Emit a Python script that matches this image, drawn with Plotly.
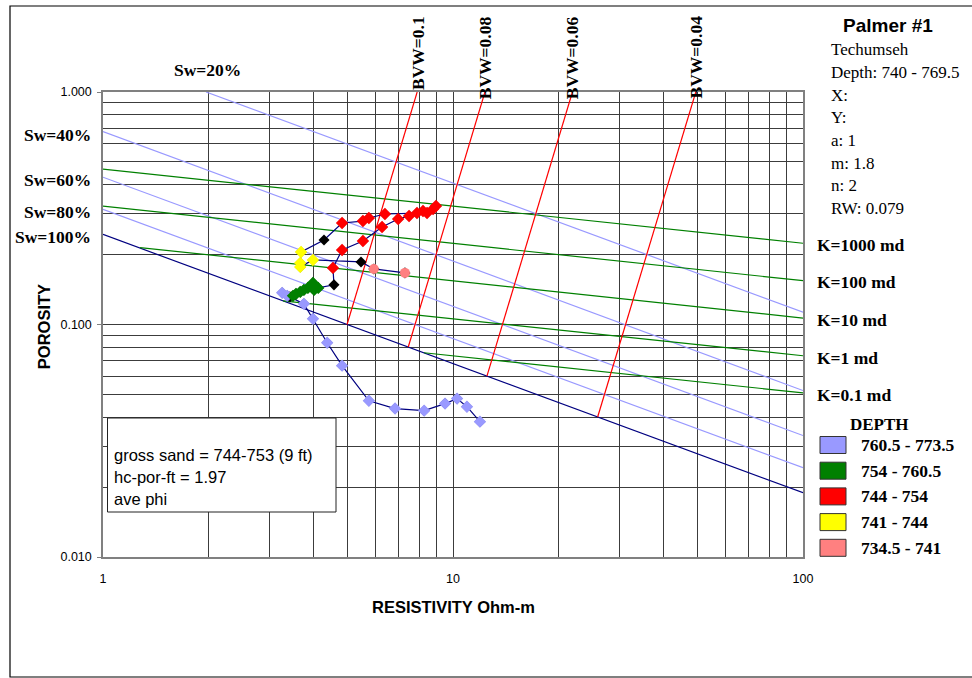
import plotly.graph_objects as go

# ---------------- data ----------------
SW_LABELS = ["Sw=20%", "Sw=40%", "Sw=60%", "Sw=80%", "Sw=100%"]
SW_RT = [[1.97, 100.0], [1.0, 100.0], [1.0, 100.0], [1.0, 100.0], [1.0, 100.0]]
SW_PHI = [[1.0, 0.113], [0.676, 0.0520], [0.430, 0.0333], [0.313, 0.0242], [0.244, 0.0189]]

BVW_LABELS = ["BVW=0.1", "BVW=0.08", "BVW=0.06", "BVW=0.04"]
BVW_RT = [[4.98, 7.90], [7.45, 12.34], [12.5, 21.94], [25.9, 49.4]]
BVW_PHI = [[0.10, 1.0], [0.08, 1.0], [0.06, 1.0], [0.04, 1.0]]

K_LABELS = ["K=1000 md", "K=100 md", "K=10 md", "K=1 md", "K=0.1 md"]
K_RT = [[1.0, 100.0], [1.0, 100.0], [1.276, 100.0], [3.27, 100.0], [8.26, 100.0]]
K_PHI = [[0.466, 0.2236], [0.323, 0.1544], [0.2143, 0.1066], [0.1264, 0.0734], [0.0756, 0.0508]]

# log points in depth order (resistivity, porosity, depth group)
POINT_RT = [7.29, 5.94,
            5.46,
            3.98, 3.66, 3.66, 3.68,
            4.28,
            4.82, 5.53, 5.75, 6.39, 7.89, 8.21, 8.94, 8.77, 8.43, 7.49, 6.97, 6.27, 5.53, 4.82, 4.54,
            4.57,
            4.12, 4.06, 3.98, 4.01, 3.93, 3.85, 3.75, 3.66, 3.56, 3.49,
            3.25, 3.36,
            3.42,
            3.75, 3.98, 4.37, 4.82, 5.75, 6.83, 8.27, 9.49, 10.27, 10.96, 11.94]
POINT_PHI = [0.1667, 0.1734,
             0.1858,
             0.1895, 0.1769, 0.1839, 0.2051,
             0.2310,
             0.2732, 0.2786, 0.2871, 0.2987, 0.3016, 0.3076, 0.3232, 0.3137, 0.3016, 0.2928, 0.2842, 0.2626, 0.2287, 0.2092, 0.1752,
             0.1481,
             0.1437, 0.1451, 0.1510, 0.1409, 0.1466, 0.1437, 0.1409, 0.1381, 0.1354, 0.1328,
             0.1368, 0.1328,
             0.1315,
             0.1227, 0.1058, 0.0835, 0.0665, 0.0470, 0.0435, 0.0426, 0.0457, 0.0480, 0.0443, 0.0382]
POINT_GROUP = (["734.5 - 741"] * 2 + ["other"] + ["741 - 744"] * 4 + ["other"]
               + ["744 - 754"] * 15 + ["other"] + ["754 - 760.5"] * 10
               + ["760.5 - 773.5"] * 2 + ["other"] + ["760.5 - 773.5"] * 11)

LEGEND_GROUPS = ["760.5 - 773.5", "754 - 760.5", "744 - 754", "741 - 744", "734.5 - 741"]
GROUP_COLORS = {"760.5 - 773.5": "#9999FF", "754 - 760.5": "#008000", "744 - 754": "#FF0000",
                "741 - 744": "#FFFF00", "734.5 - 741": "#FF8080", "other": "#000000"}

INFO_TITLE = "Palmer #1"
INFO_LINES = ["Techumseh", "Depth: 740 - 769.5", "X:", "Y:", "a: 1", "m: 1.8", "n: 2", "RW: 0.079"]
NOTE_LINES = ["gross sand = 744-753 (9 ft)", "hc-por-ft = 1.97", "ave phi"]

# ---------------- figure ----------------
SERIF = "Liberation Serif"
SANS = "Liberation Sans"
L, R, T, B = 103, 803, 92, 557   # plot area in pixels
W, H = 972, 678


def pxx(x):
    return (x - L) / (R - L)


def pxy(y):
    return (B - y) / (B - T)


fig = go.Figure()

for rt, phi, lab in zip(SW_RT, SW_PHI, SW_LABELS):
    col = "#000080" if lab == "Sw=100%" else "#9999FF"
    fig.add_trace(go.Scatter(x=rt, y=phi, mode="lines", line=dict(color=col, width=1.2),
                             showlegend=False, hoverinfo="skip"))
for rt, phi in zip(K_RT, K_PHI):
    fig.add_trace(go.Scatter(x=rt, y=phi, mode="lines", line=dict(color="#008000", width=1.2),
                             showlegend=False, hoverinfo="skip"))
for rt, phi in zip(BVW_RT, BVW_PHI):
    fig.add_trace(go.Scatter(x=rt, y=phi, mode="lines", line=dict(color="#FF0000", width=1.2),
                             showlegend=False, hoverinfo="skip"))

# data path
fig.add_trace(go.Scatter(x=POINT_RT, y=POINT_PHI, mode="lines+markers",
                         line=dict(color="#000080", width=1.2),
                         marker=dict(symbol="diamond", size=8.5, color="#000000"),
                         showlegend=False))
for g in LEGEND_GROUPS:
    xs = [x for x, gg in zip(POINT_RT, POINT_GROUP) if gg == g]
    ys = [y for y, gg in zip(POINT_PHI, POINT_GROUP) if gg == g]
    sym = "circle" if g == "734.5 - 741" else "diamond"
    fig.add_trace(go.Scatter(x=xs, y=ys, mode="markers", name=g,
                             marker=dict(symbol=sym, size=10 if sym == "circle" else 9.5,
                                         color=GROUP_COLORS[g]),
                             showlegend=False))

ann = []
shapes = []

# Sw labels
ann.append(dict(x=pxx(207), y=pxy(70), text="<b>%s</b>" % SW_LABELS[0], xanchor="center",
                yanchor="middle", font=dict(family=SERIF, size=17.5, color="black"), showarrow=False,
                xref="paper", yref="paper"))
for lab, yy in zip(SW_LABELS[1:], [135, 180, 212, 237]):
    ann.append(dict(x=pxx(93), y=pxy(yy), text="<b>%s</b>" % lab, xanchor="right", yanchor="middle",
                    font=dict(family=SERIF, size=17.5, color="black"), showarrow=False,
                    xref="paper", yref="paper"))

# BVW labels
for lab, xx in zip(BVW_LABELS, [418, 484.7, 571.7, 695]):
    ann.append(dict(x=pxx(xx), y=pxy(14), text="<b>%s</b>" % lab, textangle=-90,
                    xanchor="center", yanchor="top",
                    font=dict(family=SERIF, size=17.5, color="black"), showarrow=False,
                    xref="paper", yref="paper"))

# K labels
for lab, yy in zip(K_LABELS, [245, 282.3, 320, 358.3, 395]):
    ann.append(dict(x=pxx(815), y=pxy(yy), text="<b>%s</b>" % lab, xanchor="left", yanchor="middle",
                    font=dict(family=SERIF, size=17.5, color="black"), showarrow=False,
                    xref="paper", yref="paper"))

# info block
ann.append(dict(x=pxx(888), y=pxy(25), text="<b>%s</b>" % INFO_TITLE, xanchor="center", yanchor="middle",
                font=dict(family=SANS, size=19, color="black"), showarrow=False,
                xref="paper", yref="paper"))
for i, line in enumerate(INFO_LINES):
    ann.append(dict(x=pxx(829), y=pxy(50 + 22.6 * i), text=line, xanchor="left", yanchor="middle",
                    font=dict(family=SERIF, size=17, color="black"), showarrow=False,
                    xref="paper", yref="paper"))

# legend (manual, Excel style)
ann.append(dict(x=pxx(879), y=pxy(424), text="<b>DEPTH</b>", xanchor="center", yanchor="middle",
                font=dict(family=SERIF, size=17, color="black"), showarrow=False,
                xref="paper", yref="paper"))
for i, g in enumerate(LEGEND_GROUPS):
    yc = 445 + 25.7 * i
    shapes.append(dict(type="rect", xref="paper", yref="paper",
                       x0=pxx(820), x1=pxx(846), y0=pxy(yc + 8.5), y1=pxy(yc - 8.5),
                       fillcolor=GROUP_COLORS[g], line=dict(color="#333333", width=1)))
    ann.append(dict(x=pxx(859), y=pxy(yc), text="<b>%s</b>" % g, xanchor="left", yanchor="middle",
                    font=dict(family=SERIF, size=17.5, color="black"), showarrow=False,
                    xref="paper", yref="paper"))

# note box
shapes.append(dict(type="rect", xref="paper", yref="paper",
                   x0=pxx(107.5), x1=pxx(336), y0=pxy(512), y1=pxy(418),
                   fillcolor="white", line=dict(color="#222222", width=1), layer="above"))
for line, yy in zip(NOTE_LINES, [455, 476.7, 499.3]):
    ann.append(dict(x=pxx(112), y=pxy(yy), text=line, xanchor="left", yanchor="middle",
                    font=dict(family=SANS, size=16.5, color="black"), showarrow=False,
                    xref="paper", yref="paper"))

# axis titles
ann.append(dict(x=pxx(453), y=pxy(606.7), text="<b>RESISTIVITY Ohm-m</b>", xanchor="center",
                yanchor="middle", font=dict(family=SANS, size=16.5, color="black"), showarrow=False,
                xref="paper", yref="paper"))
ann.append(dict(x=pxx(43.5), y=pxy(326.7), text="<b>POROSITY</b>", textangle=-90, xanchor="center",
                yanchor="middle", font=dict(family=SANS, size=16.5, color="black"), showarrow=False,
                xref="paper", yref="paper"))

# outer chart border
shapes.append(dict(type="rect", xref="paper", yref="paper",
                   x0=pxx(10), x1=pxx(975), y0=pxy(677), y1=pxy(6),
                   fillcolor="rgba(0,0,0,0)", line=dict(color="#000000", width=1.2), layer="below"))

GRID = "#3c3c3c"
fig.update_layout(
    width=W, height=H,
    margin=dict(l=L, r=W - R, t=T, b=H - B),
    paper_bgcolor="white", plot_bgcolor="white",
    annotations=ann, shapes=shapes, showlegend=False,
    xaxis=dict(type="log", range=[0, 2], dtick=1, tick0=0,
               showgrid=True, gridcolor=GRID, gridwidth=1,
               minor=dict(dtick="D1", showgrid=True, gridcolor=GRID, gridwidth=1, ticks=""),
               showline=True, linecolor="#808080", linewidth=1.5, mirror=True,
               ticks="", ticklabelstandoff=9, zeroline=False,
               tickfont=dict(family=SANS, size=12.5, color="black")),
    yaxis=dict(type="log", range=[-2, 0], dtick=1, tick0=0, tickformat=".3f",
               showgrid=True, gridcolor=GRID, gridwidth=1,
               minor=dict(dtick="D1", showgrid=True, gridcolor=GRID, gridwidth=1, ticks=""),
               showline=True, linecolor="#808080", linewidth=1.5, mirror=True,
               ticks="outside", ticklen=4, tickcolor="#808080", ticklabelstandoff=3,
               zeroline=False,
               tickfont=dict(family=SANS, size=12.5, color="black")),
)

fig.write_html("out.html", config={"displayModeBar": False},
               post_script="document.body.style.margin='0px';document.body.style.overflow='hidden';")
